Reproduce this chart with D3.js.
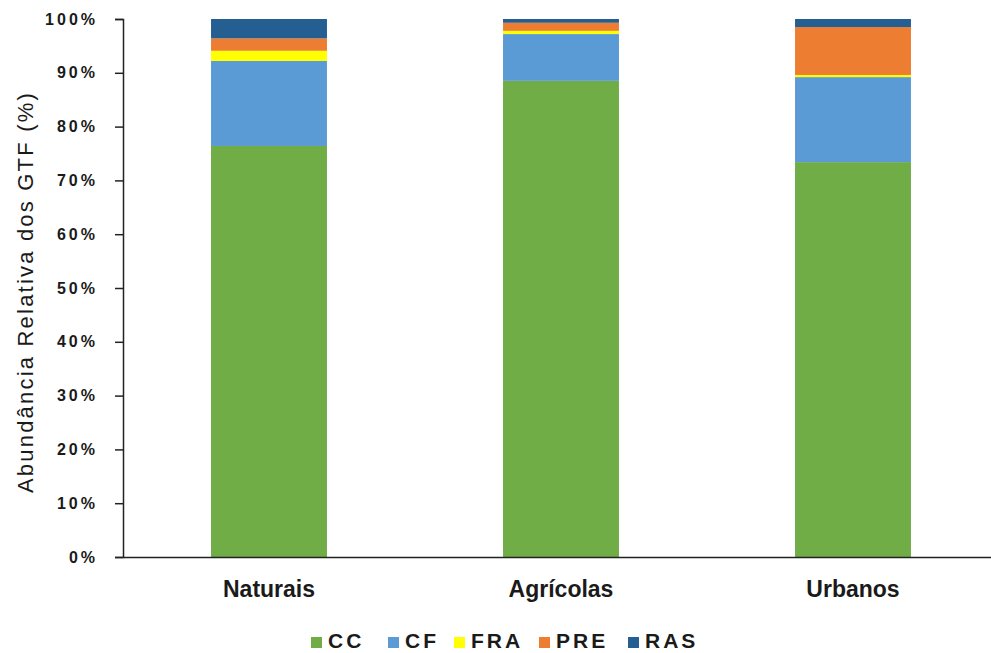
<!DOCTYPE html>
<html>
<head>
<meta charset="utf-8">
<script src="https://cdn.jsdelivr.net/npm/d3@7"></script>
<style>
  html, body { margin: 0; padding: 0; background: #fff; }
  svg { display: block; font-family: "Liberation Sans", Arial, sans-serif; }
</style>
</head>
<body>
<svg id="chart" width="991" height="653"></svg>
<script>
// Habitat types on the x axis
const categories = ["Naturais", "Agrícolas", "Urbanos"];
// Functional groups (stack order, bottom to top)
const groups = ["CC", "CF", "FRA", "PRE", "RAS"];
// Relative abundance (%) of each group per habitat
const CC  = [76.4, 88.5, 73.4];
const CF  = [15.8,  8.7, 15.8];
const FRA = [ 1.9,  0.6,  0.4];
const PRE = [ 2.3,  1.5,  8.9];
const RAS = [ 3.6,  0.7,  1.5];
const yTicks = [0, 10, 20, 30, 40, 50, 60, 70, 80, 90, 100];
const colors = ["#70AD47", "#5B9BD5", "#FFFF00", "#ED7D31", "#255E91"];

const seriesValues = { CC, CF, FRA, PRE, RAS };
const rows = categories.map((c, i) => {
  const r = { cat: c };
  groups.forEach(g => r[g] = seriesValues[g][i]);
  return r;
});

const svg = d3.select("#chart");
const plotLeft = 123, plotRight = 999, plotTop = 19, plotBottom = 557;

const x = d3.scaleBand().domain(categories).range([plotLeft, plotRight]).paddingInner(0.603).paddingOuter(0.3015);
const y = d3.scaleLinear().domain([0, 100]).range([plotBottom, plotTop]);
const color = d3.scaleOrdinal().domain(groups).range(colors);

const stacked = d3.stack().keys(groups)(rows);

svg.append("g")
  .selectAll("g")
  .data(stacked)
  .join("g")
  .attr("fill", d => color(d.key))
  .selectAll("rect")
  .data(d => d)
  .join("rect")
  .attr("x", d => x(d.data.cat))
  .attr("width", x.bandwidth())
  .attr("y", d => y(d[1]))
  .attr("height", d => y(d[0]) - y(d[1]));

// Y axis
const yAxis = svg.append("g")
  .attr("transform", `translate(${plotLeft},0)`)
  .call(d3.axisLeft(y).tickValues(yTicks).tickFormat(d => d + "%").tickSize(8).tickPadding(17));
yAxis.select(".domain").attr("stroke", "#222").attr("stroke-width", 1.5);
yAxis.selectAll(".tick line").attr("stroke", "#222").attr("stroke-width", 1.5);
yAxis.selectAll(".tick text")
  .attr("fill", "#1a1a1a")
  .style("font-size", "16px")
  .style("font-weight", "bold")
  .style("letter-spacing", "3px");

// X axis
const xAxis = svg.append("g")
  .attr("transform", `translate(0,${plotBottom})`)
  .call(d3.axisBottom(x).tickSize(0).tickPadding(24));
xAxis.select(".domain").attr("stroke", "#222").attr("stroke-width", 1.5);
xAxis.selectAll(".tick text")
  .attr("fill", "#1a1a1a")
  .style("font-size", "23px")
  .style("font-weight", "bold");

// Y axis title
svg.append("text")
  .attr("transform", "translate(33,292) rotate(-90)")
  .attr("text-anchor", "middle")
  .attr("fill", "#1a1a1a")
  .style("font-size", "22px")
  .style("letter-spacing", "2.2px")
  .text("Abundância Relativa dos GTF (%)");

// Legend
const legendX = [311, 388, 454, 539, 628];
const legend = svg.append("g");
groups.forEach((g, i) => {
  legend.append("rect")
    .attr("x", legendX[i]).attr("y", 637)
    .attr("width", 11).attr("height", 11)
    .attr("fill", color(g));
  legend.append("text")
    .attr("x", legendX[i] + 17).attr("y", 648)
    .attr("fill", "#1a1a1a")
    .style("font-size", "21px")
    .style("font-weight", "bold")
    .style("letter-spacing", "3px")
    .text(g);
});
</script>
</body>
</html>
